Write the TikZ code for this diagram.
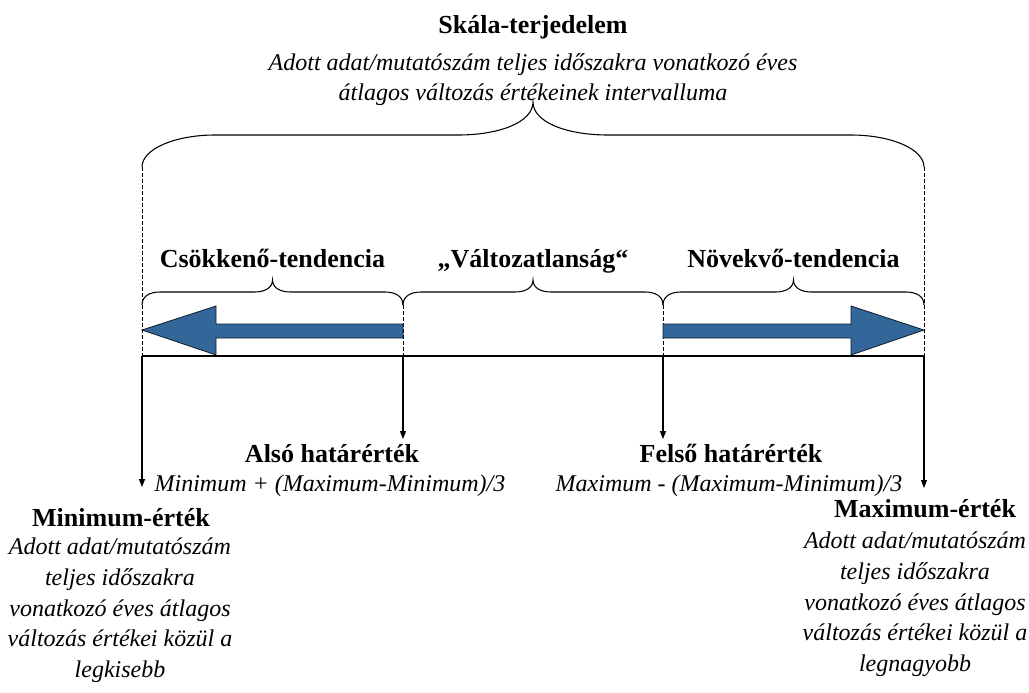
\documentclass[tikz,border=0pt]{standalone}
\usepackage{fontspec}
\setmainfont{Liberation Serif}
\usetikzlibrary{arrows.meta}
\definecolor{arrowblue}{RGB}{51,102,153}
\tikzset{
  title/.style={font=\fontsize{19.5}{22}\selectfont\bfseries, inner sep=0pt, anchor=base},
  desc/.style={font=\fontsize{18}{23}\selectfont\itshape, inner sep=0pt, align=center},
  brace/.style={line width=0.8pt},
  guide/.style={line width=0.6pt, dash pattern=on 3pt off 1.5pt},
  fatarrow/.style={fill=arrowblue, draw=black!70!arrowblue, line width=0.6pt},
  downarrow/.style={line width=0.8pt, -{Triangle[length=6pt,width=4.5pt]}}
}
\begin{document}
\begin{tikzpicture}[x=0.75pt,y=-0.75pt]
  \useasboundingbox (0,0) rectangle (1029,693);

  % Points on the scale line
  \coordinate (minpt) at (142,356);
  \coordinate (alsopt) at (403,356);
  \coordinate (felsopt) at (663,356);
  \coordinate (maxpt) at (924,356);

  % The big brace over the whole scale
  \draw [brace] (142,167) .. controls (142,149) and (175,135) .. (215,135)
    -- (458,135) .. controls (500,135) and (533,122) .. (533,102)
    .. controls (533,122) and (566,135) .. (608,135)
    -- (851,135) .. controls (891,135) and (924,149) .. (924,167);
  \node [title] (skala) at (533,33) {Skála-terjedelem};
  \node [desc, anchor=north] (skaladesc) at (533,53)
    {Adott adat/mutatószám teljes időszakra vonatkozó éves\\
     átlagos változás értékeinek intervalluma};

  % Dashed guides
  \draw [guide] (142,167) -- (minpt);
  \draw [guide] (924,167) -- (maxpt);
  \draw [guide] (403,305) -- (alsopt);
  \draw [guide] (663,305) -- (felsopt);

  % Three small braces with their labels
  \foreach \a/\b/\nm/\lab in {
    142/403/csokk/{Csökkenő-tendencia},
    403/663/valt/{„Változatlanság“},
    663/924/novek/{Növekvő-tendencia}} {
    \pgfmathsetmacro\m{(\a+\b)/2}
    \draw [brace] (\a,305) .. controls (\a,296) and ({\a+8},292) .. ({\a+18},292)
      -- ({\m-18},292) .. controls ({\m-8},292) and (\m,288) .. (\m,280)
      .. controls (\m,288) and ({\m+8},292) .. ({\m+18},292)
      -- ({\b-18},292) .. controls ({\b-8},292) and (\b,296) .. (\b,305);
    \node [title] (\nm) at (\m,267) {\lab};
  }

  % The two thick arrows
  \draw [fatarrow] (142,330) -- (216,306) -- (216,324) -- (403,324)
    -- (403,338) -- (216,338) -- (216,355) -- cycle;
  \draw [fatarrow] (924,330) -- (851,306) -- (851,324) -- (663,324)
    -- (663,338) -- (851,338) -- (851,355) -- cycle;

  % Scale line
  \draw [line width=1pt] (minpt) -- (maxpt);

  % Arrows down to the labels
  \coordinate (minend) at (142,487);
  \coordinate (alsoend) at (403,439);
  \coordinate (felsoend) at (663,439);
  \coordinate (maxend) at (924,488);
  \foreach \p in {min,also,felso,max} {
    \draw [downarrow] (\p pt) -- (\p end);
  }

  % Threshold labels
  \node [title] (also) at (332,462) {Alsó határérték};
  \node [desc, anchor=base] (alsodesc) at (330,491)
    {Minimum + (Maximum-Minimum)/3};
  \node [title] (felso) at (731,462) {Felső határérték};
  \node [desc, anchor=base] (felsodesc) at (729,491)
    {Maximum - (Maximum-Minimum)/3};

  % Extreme values
  \node [title] (minimum) at (121,526) {Minimum-érték};
  \node [desc, anchor=north] (minimumdesc) at (120,538)
    {Adott adat/mutatószám\\ teljes időszakra\\ vonatkozó éves átlagos\\
     változás értékei közül a\\ legkisebb};
  \node [title] (maximum) at (925,517) {Maximum-érték};
  \node [desc, anchor=north] (maximumdesc) at (915,532)
    {Adott adat/mutatószám\\ teljes időszakra\\ vonatkozó éves átlagos\\
     változás értékei közül a\\ legnagyobb};
\end{tikzpicture}
\end{document}
